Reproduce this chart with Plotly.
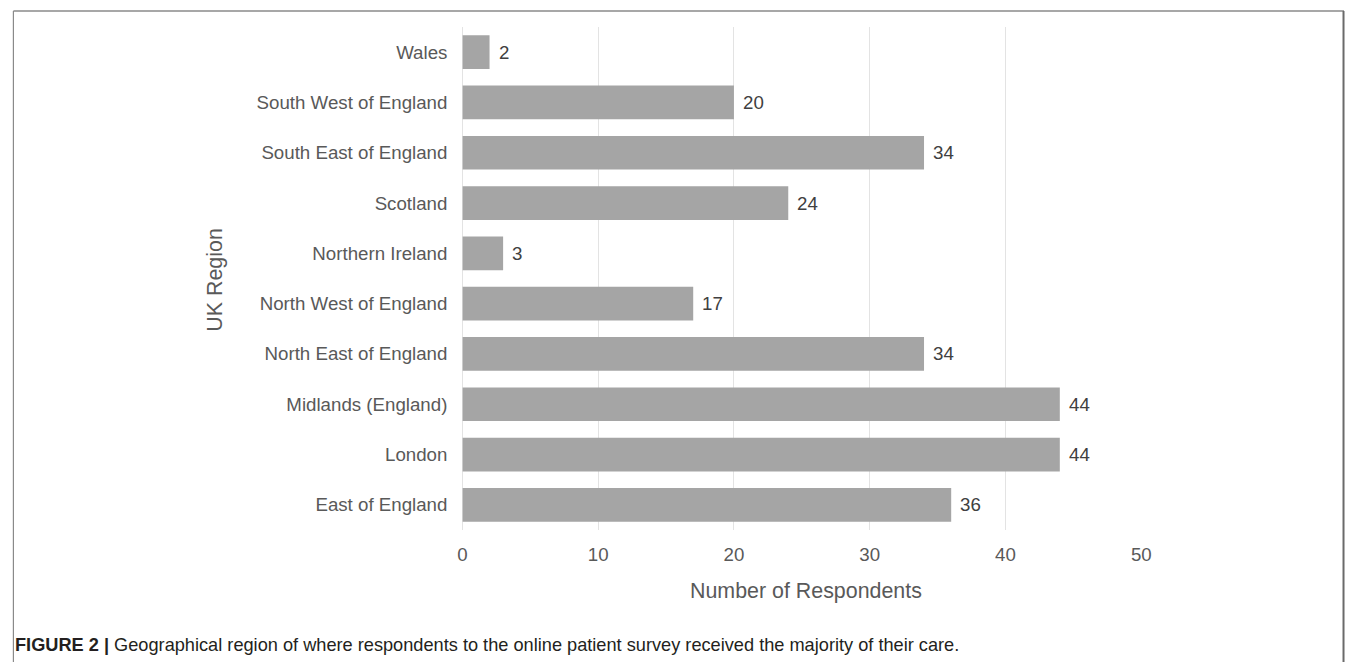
import plotly.graph_objects as go

# UK regions, listed bottom-to-top as drawn on the chart
regions = [
    "East of England",
    "London",
    "Midlands (England)",
    "North East of England",
    "North West of England",
    "Northern Ireland",
    "Scotland",
    "South East of England",
    "South West of England",
    "Wales",
]
respondents = [36, 44, 44, 34, 17, 3, 24, 34, 20, 2]
x_ticks = [0, 10, 20, 30, 40, 50]

W, H = 1355, 662
FONT = "Liberation Sans, Arial, sans-serif"
TICK_SIZE = 18.7
TITLE_SIZE = 21.4


def px_x(p):
    return p / W


def px_y(p):
    return 1 - p / H


plot_left, plot_right = 462.5, 1149
plot_top, plot_bottom = 27, 530

fig = go.Figure(
    go.Bar(
        x=respondents,
        y=regions,
        orientation="h",
        marker=dict(color="#a5a5a5", line=dict(width=0)),
        width=0.67,
        hoverinfo="x+y",
    )
)

# value labels just past the end of each bar
for r, v in zip(regions, respondents):
    fig.add_annotation(
        x=v, y=r, xref="x", yref="y", text=str(v), showarrow=False,
        xanchor="left", yanchor="middle", xshift=7,
        font=dict(family=FONT, size=TICK_SIZE, color="#404040"),
    )

# axis titles
fig.add_annotation(
    x=px_x((plot_left + plot_right) / 2 + 4), y=px_y(591), xref="paper", yref="paper",
    text="Number of Respondents", showarrow=False, xanchor="center", yanchor="middle",
    font=dict(family=FONT, size=TITLE_SIZE, color="#595959"),
)
fig.add_annotation(
    x=px_x(212), y=px_y(280), xref="paper", yref="paper",
    text="UK Region", showarrow=False, textangle=-90, xanchor="center", yanchor="middle",
    font=dict(family=FONT, size=TITLE_SIZE, color="#595959"),
)

# caption
fig.add_annotation(
    x=px_x(8), y=px_y(645), xref="paper", yref="paper",
    text="<b>FIGURE 2 |</b> Geographical region of where respondents to the online "
         "patient survey received the majority of their care.",
    showarrow=False, xanchor="left", yanchor="middle",
    font=dict(family=FONT, size=18.2, color="#231f20"),
)

# frame around the chart (open at the bottom)
frame = dict(type="line", xref="paper", yref="paper")
fig.add_shape(**frame, x0=px_x(8.5), x1=px_x(1354), y0=px_y(11), y1=px_y(11),
              line=dict(color="#8a8a8a", width=1.5))
fig.add_shape(**frame, x0=px_x(8.5), x1=px_x(8.5), y0=px_y(11), y1=px_y(665),
              line=dict(color="#8a8a8a", width=1.2))
fig.add_shape(**frame, x0=px_x(1353.5), x1=px_x(1353.5), y0=px_y(11), y1=px_y(665),
              line=dict(color="#6a6a6a", width=2))

fig.update_layout(
    width=W,
    height=H,
    autosize=False,
    margin=dict(l=0, r=0, t=0, b=0),
    paper_bgcolor="white",
    plot_bgcolor="white",
    showlegend=False,
    font=dict(family=FONT, size=TICK_SIZE, color="#595959"),
    xaxis=dict(
        domain=[px_x(plot_left), px_x(plot_right)],
        range=[0, 50],
        tickvals=x_ticks,
        showgrid=True,
        gridcolor="#e3e3e3",
        gridwidth=1,
        zeroline=True,
        zerolinecolor="#e3e3e3",
        zerolinewidth=1,
        showline=False,
        ticks="",
        ticklabelstandoff=11,
        tickfont=dict(family=FONT, size=TICK_SIZE, color="#595959"),
    ),
    yaxis=dict(
        domain=[px_y(plot_bottom), px_y(plot_top)],
        categoryorder="array",
        categoryarray=regions,
        showgrid=False,
        zeroline=False,
        showline=False,
        ticks="",
        ticklabelstandoff=14,
        tickfont=dict(family=FONT, size=TICK_SIZE, color="#595959"),
    ),
)

# keep the page free of scrollbars so the figure keeps its full size
page_fix = (
    "document.documentElement.style.overflow='hidden';"
    "document.body.style.overflow='hidden';"
    "document.body.style.margin='0';"
    "Plotly.relayout('{plot_id}', {width: %d, height: %d});" % (W, H)
)

fig.write_html("out.html", config={"responsive": False}, post_script=page_fix)
